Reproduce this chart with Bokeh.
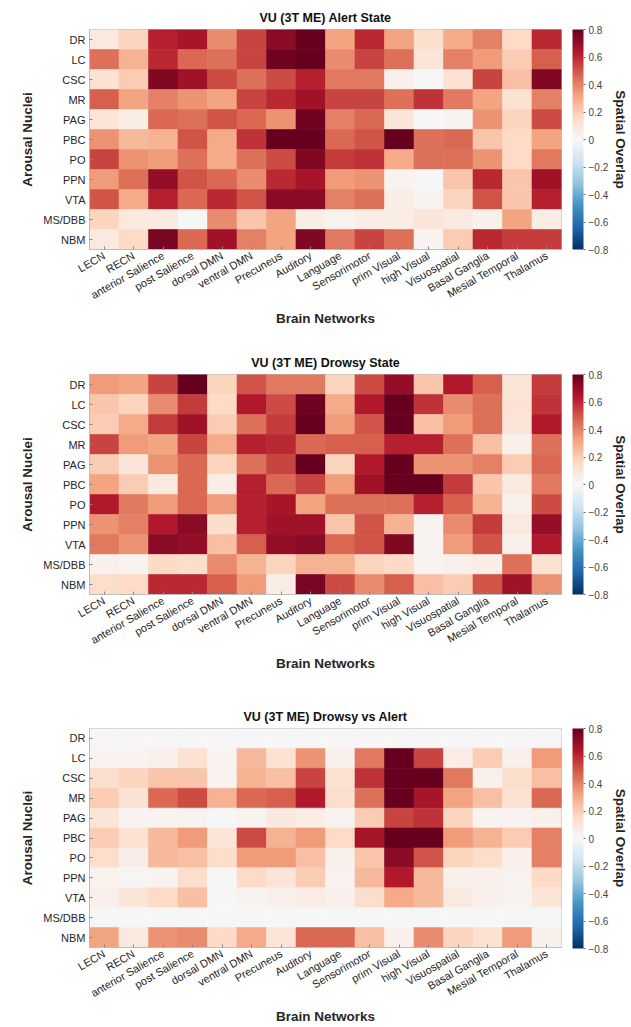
import math
import pandas as pd
from bokeh.plotting import figure
from bokeh.models import LinearColorMapper, ColorBar, FixedTicker, Title, ColumnDataSource
from bokeh.layouts import column
from bokeh.embed import file_html
from bokeh.resources import INLINE

networks = ["LECN", "RECN", "anterior Salience", "post Salience", "dorsal DMN", "ventral DMN",
            "Precuneus", "Auditory", "Language", "Sensorimotor", "prim Visual", "high Visual",
            "Visuospatial", "Basal Ganglia", "Mesial Temporal", "Thalamus"]
nuclei = ["DR", "LC", "CSC", "MR", "PAG", "PBC", "PO", "PPN", "VTA", "MS/DBB", "NBM"]

alert = [
    [0.08, 0.18, 0.62, 0.66, 0.38, 0.54, 0.72, 0.80, 0.32, 0.60, 0.32, 0.14, 0.30, 0.40, 0.16, 0.60],
    [0.44, 0.28, 0.60, 0.46, 0.44, 0.54, 0.78, 0.80, 0.38, 0.54, 0.44, 0.10, 0.40, 0.34, 0.20, 0.48],
    [0.12, 0.20, 0.74, 0.68, 0.52, 0.44, 0.52, 0.62, 0.42, 0.42, 0.04, 0.00, 0.12, 0.54, 0.24, 0.74],
    [0.48, 0.32, 0.40, 0.36, 0.32, 0.54, 0.60, 0.68, 0.54, 0.54, 0.44, 0.58, 0.42, 0.32, 0.12, 0.40],
    [0.10, 0.06, 0.46, 0.44, 0.50, 0.46, 0.36, 0.78, 0.40, 0.46, 0.10, 0.00, 0.02, 0.36, 0.18, 0.52],
    [0.36, 0.26, 0.28, 0.50, 0.30, 0.58, 0.80, 0.80, 0.46, 0.50, 0.80, 0.44, 0.46, 0.22, 0.16, 0.32],
    [0.54, 0.36, 0.34, 0.44, 0.30, 0.44, 0.52, 0.74, 0.56, 0.58, 0.30, 0.44, 0.44, 0.36, 0.16, 0.42],
    [0.34, 0.44, 0.70, 0.50, 0.46, 0.38, 0.60, 0.66, 0.34, 0.36, 0.02, 0.00, 0.22, 0.60, 0.22, 0.68],
    [0.50, 0.30, 0.62, 0.46, 0.60, 0.50, 0.72, 0.72, 0.40, 0.44, 0.06, 0.02, 0.18, 0.50, 0.22, 0.62],
    [0.18, 0.08, 0.07, 0.00, 0.38, 0.22, 0.32, 0.06, 0.03, 0.06, 0.06, 0.10, 0.08, 0.04, 0.32, 0.06],
    [0.08, 0.16, 0.76, 0.46, 0.68, 0.40, 0.32, 0.74, 0.42, 0.54, 0.44, 0.02, 0.20, 0.60, 0.56, 0.56],
]

drowsy = [
    [0.34, 0.32, 0.54, 0.80, 0.18, 0.50, 0.42, 0.42, 0.18, 0.52, 0.70, 0.22, 0.64, 0.48, 0.10, 0.56],
    [0.22, 0.18, 0.38, 0.56, 0.16, 0.64, 0.52, 0.78, 0.30, 0.64, 0.80, 0.58, 0.38, 0.44, 0.12, 0.58],
    [0.20, 0.30, 0.56, 0.68, 0.20, 0.44, 0.56, 0.80, 0.34, 0.50, 0.80, 0.24, 0.34, 0.44, 0.10, 0.64],
    [0.54, 0.34, 0.32, 0.54, 0.30, 0.62, 0.60, 0.46, 0.48, 0.48, 0.62, 0.62, 0.44, 0.24, 0.04, 0.44],
    [0.20, 0.10, 0.36, 0.46, 0.18, 0.44, 0.54, 0.80, 0.18, 0.64, 0.80, 0.36, 0.36, 0.40, 0.20, 0.46],
    [0.32, 0.20, 0.08, 0.46, 0.06, 0.62, 0.46, 0.54, 0.34, 0.68, 0.80, 0.80, 0.56, 0.22, 0.08, 0.42],
    [0.64, 0.42, 0.34, 0.46, 0.34, 0.62, 0.66, 0.32, 0.44, 0.44, 0.44, 0.62, 0.48, 0.28, 0.04, 0.52],
    [0.36, 0.40, 0.64, 0.72, 0.14, 0.62, 0.68, 0.68, 0.22, 0.50, 0.28, 0.02, 0.38, 0.56, 0.08, 0.70],
    [0.42, 0.36, 0.72, 0.70, 0.24, 0.48, 0.70, 0.72, 0.46, 0.50, 0.74, 0.02, 0.34, 0.50, 0.04, 0.64],
    [0.04, 0.02, 0.16, 0.14, 0.38, 0.28, 0.18, 0.28, 0.28, 0.18, 0.16, 0.02, 0.04, 0.06, 0.44, 0.12],
    [0.14, 0.16, 0.60, 0.60, 0.48, 0.34, 0.06, 0.76, 0.52, 0.38, 0.48, 0.24, 0.20, 0.50, 0.68, 0.36],
]

diff = [
    [0.00, 0.00, 0.00, 0.00, 0.00, 0.00, 0.00, 0.00, 0.00, 0.00, 0.00, 0.00, 0.00, 0.00, 0.00, 0.00],
    [0.02, 0.02, 0.04, 0.12, 0.02, 0.26, 0.12, 0.36, 0.04, 0.42, 0.80, 0.54, 0.06, 0.20, 0.04, 0.34],
    [0.14, 0.18, 0.22, 0.22, 0.02, 0.28, 0.24, 0.54, 0.12, 0.58, 0.80, 0.80, 0.42, 0.04, 0.14, 0.24],
    [0.20, 0.12, 0.46, 0.52, 0.28, 0.46, 0.48, 0.64, 0.14, 0.44, 0.80, 0.66, 0.32, 0.24, 0.12, 0.46],
    [0.10, 0.02, 0.02, 0.03, 0.00, 0.02, 0.08, 0.06, 0.02, 0.20, 0.54, 0.58, 0.18, 0.02, 0.02, 0.04],
    [0.20, 0.12, 0.26, 0.34, 0.10, 0.52, 0.28, 0.34, 0.16, 0.66, 0.80, 0.80, 0.34, 0.28, 0.20, 0.40],
    [0.14, 0.05, 0.26, 0.24, 0.14, 0.34, 0.34, 0.24, 0.04, 0.22, 0.72, 0.50, 0.18, 0.14, 0.04, 0.40],
    [0.03, 0.01, 0.02, 0.14, 0.00, 0.16, 0.10, 0.20, 0.02, 0.26, 0.64, 0.26, 0.04, 0.04, 0.02, 0.16],
    [0.04, 0.10, 0.16, 0.24, 0.00, 0.02, 0.04, 0.06, 0.04, 0.14, 0.30, 0.26, 0.08, 0.04, 0.02, 0.10],
    [0.00, 0.00, 0.00, 0.00, 0.00, 0.00, 0.00, 0.00, 0.00, 0.00, 0.00, 0.00, 0.00, 0.00, 0.00, 0.00],
    [0.32, 0.08, 0.36, 0.38, 0.16, 0.30, 0.10, 0.46, 0.46, 0.24, 0.04, 0.38, 0.18, 0.12, 0.34, 0.04],
]

titles = ["VU (3T ME) Alert State", "VU (3T ME) Drowsy State", "VU (3T ME) Drowsy vs Alert"]
cbar_ticks = [-0.8, -0.6, -0.4, -0.2, 0, 0.2, 0.4, 0.6, 0.8]

anchors = ["#053061", "#2166ac", "#4393c3", "#92c5de", "#d1e5f0", "#f7f7f7",
           "#fddbc7", "#f4a582", "#d6604d", "#b2182b", "#67001f"]


def build_palette(cols, n=256):
    rgb = [tuple(int(c[i:i + 2], 16) for i in (1, 3, 5)) for c in cols]
    out = []
    for k in range(n):
        t = k / (n - 1) * (len(rgb) - 1)
        i = min(int(t), len(rgb) - 2)
        f = t - i
        a, b = rgb[i], rgb[i + 1]
        out.append("#%02x%02x%02x" % tuple(round(a[j] + (b[j] - a[j]) * f) for j in range(3)))
    return out


palette = build_palette(anchors)
FONT = "Liberation Sans"


def make(title, data, height, bottom):
    rows = []
    for r, nuc in enumerate(nuclei):
        for c, net in enumerate(networks):
            rows.append((net, nuc, data[r][c]))
    df = pd.DataFrame(rows, columns=["x", "y", "v"])
    src = ColumnDataSource(df)
    mapper = LinearColorMapper(palette=palette, low=-0.8, high=0.8)
    p = figure(x_range=networks, y_range=list(reversed(nuclei)), width=631, height=height,
               toolbar_location=None, output_backend="svg", title=title,
               min_border_left=89, min_border_right=0, min_border_top=29,
               min_border_bottom=bottom)
    p.rect(x="x", y="y", width=1, height=1, source=src,
           fill_color={"field": "v", "transform": mapper},
           line_color={"field": "v", "transform": mapper}, line_width=0.6)
    p.title.align = "center"
    p.title.text_font = FONT
    p.title.text_font_size = "12.5px"
    p.title.text_font_style = "bold"
    p.title.text_color = "#111111"
    p.grid.visible = False
    p.outline_line_color = "#bdbdbd"
    for ax in (p.xaxis, p.yaxis):
        ax.axis_line_color = "#bdbdbd"
        ax.major_tick_line_color = "#888888"
        ax.major_tick_in = 3
        ax.major_tick_out = 0
        ax.major_label_text_font = FONT
        ax.major_label_text_color = "#262626"
        ax.axis_label_text_font = FONT
        ax.axis_label_text_font_style = "bold"
        ax.axis_label_text_font_size = "13.5px"
        ax.axis_label_text_color = "#262626"
    p.xaxis.major_label_orientation = math.pi / 6
    p.xaxis.major_label_text_font_size = "11px"
    p.yaxis.major_label_text_font_size = "11px"
    p.xaxis.axis_label = "Brain Networks"
    p.yaxis.axis_label = "Arousal Nuclei"
    p.xaxis.major_label_standoff = 5
    p.xaxis.axis_label_standoff = 2
    p.yaxis.major_label_standoff = 4
    # gap between frame and colour bar
    p.add_layout(Title(text=" ", text_font_size="1px", standoff=8), "right")
    cb = ColorBar(color_mapper=mapper, ticker=FixedTicker(ticks=cbar_ticks), width=11, height=220,
                  padding=0, margin=0, label_standoff=3,
                  major_label_text_font=FONT, major_label_text_font_size="10px",
                  major_label_text_color="#444444",
                  major_tick_in=0, major_tick_out=2, major_tick_line_color="#666666",
                  bar_line_color=None, border_line_color=None, background_fill_color=None)
    p.add_layout(cb, "right")
    p.add_layout(Title(text="Spatial Overlap", align="center", text_font=FONT,
                       text_font_size="13.5px", text_font_style="bold", standoff=3,
                       text_color="#262626"), "right")
    return p


p1 = make(titles[0], alert, 345, 96)
p2 = make(titles[1], drowsy, 354, 105)
p3 = make(titles[2], diff, 328, 79)
p = column(p1, p2, p3, spacing=0)
open("out.html", "w").write(file_html(p, INLINE))
